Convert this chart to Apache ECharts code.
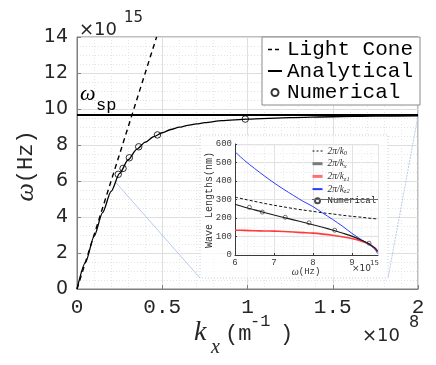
<!DOCTYPE html>
<html><head><meta charset="utf-8">
<script src="https://cdn.jsdelivr.net/npm/echarts@6/dist/echarts.min.js"></script>
<style>html,body{margin:0;padding:0;background:#fff}#c{width:436px;height:365px}</style>
</head><body><div id="c"></div>
<script>
// ---- main plot data (k in 1e8 m^-1, omega in 1e15 Hz)
const xTickLabels = ['0', '0.5', '1', '1.5', '2'];
const yTickLabels = ['0', '2', '4', '6', '8', '10', '12', '14'];
const lightConeK = [0, 0.4667];
const lightConeW = [0, 14];
const analyticK = [0, 0.05, 0.1, 0.15, 0.2, 0.25, 0.3, 0.35, 0.4, 0.45, 0.5, 0.55, 0.6, 0.65, 0.7, 0.75, 0.85, 1.0, 1.25, 1.5, 1.75, 2.0];
const analyticW = [0, 1.48, 2.92, 4.24, 5.42, 6.42, 7.18, 7.76, 8.16, 8.46, 8.68, 8.86, 8.99, 9.09, 9.17, 9.24, 9.35, 9.44, 9.52, 9.57, 9.6, 9.62];
const numericK = [0.242, 0.27, 0.307, 0.362, 0.472, 0.987];
const numericW = [6.37, 6.7, 7.29, 7.9, 8.56, 9.44];
const omegaSpK = [0, 2];
const omegaSpW = [9.67, 9.67];

// ---- inset data (omega in 1e15 Hz, wavelengths in nm)
const insetXTicks = ['6', '7', '8', '9'];
const insetW = [6, 6.25, 6.5, 6.75, 7, 7.25, 7.5, 7.75, 8, 8.25, 8.5, 8.75, 9, 9.25, 9.4, 9.5, 9.6, 9.66];
const lambda0 = [313, 301, 290, 279, 269, 260, 251, 243, 236, 228, 222, 215, 209, 204, 200, 198, 196, 195];
const lambdaX = [274, 258, 244, 230, 216, 203, 190, 177, 164, 150, 135, 119, 102, 80, 65, 52, 36, 20];
const lambdaZ1 = [134, 133, 131, 130, 129, 127, 124, 121, 118, 113, 107, 99, 89, 75, 63, 52, 36, 18];
const lambdaZ2 = [558, 510, 468, 428, 390, 355, 322, 290, 262, 227, 193, 157, 117, 82, 62, 47, 28, 8];
const insetNumW = [6.37, 6.7, 7.29, 7.9, 8.56, 9.44];
const insetNumL = [258, 232, 204, 174, 134, 64];

const zip = (a, b) => a.map((v, i) => [v, b[i]]);

const chart = echarts.init(document.getElementById('c'), null, {renderer: 'canvas'});
const MONO = '"Liberation Mono", monospace';
const SANS = '"DejaVu Sans", sans-serif';
const SERIF = '"Liberation Serif", serif';
const axisGray = '#7f7f7f';
const noSym = {opacity: 0};

const insetNames = {
  k0: '{i|2π/k}{s|0}',
  kx: '{i|2π/k}{s|x}',
  kz1: '{i|2π/k}{s|z1}',
  kz2: '{i|2π/k}{s|z2}',
  'Numerical ': '{n|Numerical}'
};

const option = {
  animation: false,
  backgroundColor: '#fff',
  grid: [
    {left: 77, top: 37, width: 341, height: 252, show: true, borderColor: axisGray, borderWidth: 1, backgroundColor: 'transparent'},
    {left: 235, top: 144, width: 143, height: 111, show: false}
  ],
  xAxis: [
    {
      type: 'value', gridIndex: 0, min: 0, max: 2, interval: 0.5,
      axisLine: {show: true, lineStyle: {color: axisGray}},
      axisTick: {show: true, inside: true, length: 4, lineStyle: {color: axisGray}},
      axisLabel: {fontFamily: MONO, fontSize: 21, color: '#262626', margin: 8,
        formatter: v => xTickLabels[Math.round(v / 0.5)] || ''},
      splitLine: {show: true, lineStyle: {color: '#dedede'}},
      minorTick: {show: false, splitNumber: 5},
      minorSplitLine: {show: true, lineStyle: {color: '#e4e4e4', type: [1, 2]}}
    },
    {
      type: 'value', gridIndex: 1, min: 6, max: 9.67, interval: 1, z: 3,
      axisLine: {show: true, onZero: false, lineStyle: {color: '#3a3a3a'}},
      axisTick: {show: true, inside: true, length: 2, lineStyle: {color: '#3a3a3a'}},
      axisLabel: {fontFamily: MONO, fontSize: 9, color: '#3a3a3a', margin: 3,
        showMaxLabel: false,
        formatter: v => (Math.abs(v - Math.round(v)) < 1e-6 ? insetXTicks[Math.round(v) - 6] || '' : '')},
      splitLine: {show: true, lineStyle: {color: '#e2e2e2'}},
      minorTick: {show: false, splitNumber: 4},
      minorSplitLine: {show: true, lineStyle: {color: '#ececec', type: [1, 2]}}
    }
  ],
  yAxis: [
    {
      type: 'value', gridIndex: 0, min: 0, max: 14, interval: 2,
      axisLine: {show: true, lineStyle: {color: axisGray}},
      axisTick: {show: true, inside: true, length: 4, lineStyle: {color: axisGray}},
      axisLabel: {fontFamily: SANS, fontSize: 19, color: '#262626', margin: 9,
        formatter: v => yTickLabels[Math.round(v / 2)] || ''},
      splitLine: {show: true, lineStyle: {color: '#dedede'}},
      minorTick: {show: false, splitNumber: 4},
      minorSplitLine: {show: true, lineStyle: {color: '#e4e4e4', type: [1, 2]}}
    },
    {
      type: 'value', gridIndex: 1, min: 0, max: 600, interval: 100, z: 3,
      axisLine: {show: true, onZero: false, lineStyle: {color: '#3a3a3a'}},
      axisTick: {show: true, inside: true, length: 2, lineStyle: {color: '#3a3a3a'}},
      axisLabel: {fontFamily: MONO, fontSize: 9, color: '#3a3a3a', margin: 3},
      splitLine: {show: true, lineStyle: {color: '#e2e2e2'}},
      minorTick: {show: false, splitNumber: 2},
      minorSplitLine: {show: true, lineStyle: {color: '#ececec', type: [1, 2]}}
    }
  ],
  legend: [
    {
      left: 262, top: 37, orient: 'vertical',
      backgroundColor: '#fff', borderColor: '#8a8a8a', borderWidth: 1, borderRadius: 0,
      padding: [2, 7, 2, 5], itemGap: 0.5, itemWidth: 14, itemHeight: 7, itemTextGap: 3,
      textStyle: {fontFamily: MONO, fontSize: 21, color: '#000', lineHeight: 21},
      data: [
        {name: 'Light Cone', itemStyle: noSym, lineStyle: {type: [4, 3], width: 1.4}},
        {name: 'Analytical', itemStyle: noSym},
        {name: 'Numerical'}
      ],
      z: 10
    },
    {
      left: 311, top: 145, orient: 'vertical',
      padding: 0, itemGap: 0.7, itemWidth: 10, itemHeight: 5, itemTextGap: 2,
      textStyle: {fontSize: 9, color: '#333', lineHeight: 10,
        rich: {
          i: {fontFamily: SERIF, fontStyle: 'italic', fontSize: 9.5, color: '#333', lineHeight: 10},
          s: {fontFamily: SERIF, fontStyle: 'italic', fontSize: 6.5, color: '#333', lineHeight: 10, padding: [5, 0, 0, 0]},
          n: {fontFamily: MONO, fontSize: 9, color: '#222', lineHeight: 10}
        }
      },
      formatter: name => insetNames[name] || name,
      data: [
        {name: 'k0', itemStyle: noSym, lineStyle: {width: 1, type: [2, 2]}},
        {name: 'kx', itemStyle: noSym, lineStyle: {color: '#7a7a7a', width: 3}},
        {name: 'kz1', itemStyle: noSym, lineStyle: {color: '#ff7070', width: 3}},
        {name: 'kz2', itemStyle: noSym},
        {name: 'Numerical '}
      ],
      z: 10
    }
  ],
  series: [
    {
      name: 'omega_sp', type: 'line', xAxisIndex: 0, yAxisIndex: 0, symbol: 'none',
      data: zip(omegaSpK, omegaSpW), lineStyle: {color: '#000', width: 2}, z: 2
    },
    {
      name: 'Light Cone', type: 'line', xAxisIndex: 0, yAxisIndex: 0, symbol: 'none',
      data: zip(lightConeK, lightConeW), lineStyle: {color: '#000', width: 1.4, type: [5, 4]},
      itemStyle: {color: '#000'}, z: 2
    },
    {
      name: 'Analytical', type: 'line', xAxisIndex: 0, yAxisIndex: 0, symbol: 'none',
      smooth: 0.25, smoothMonotone: 'x',
      data: zip(analyticK, analyticW), lineStyle: {color: '#000', width: 1.3},
      itemStyle: {color: '#000'}, z: 2
    },
    {
      name: 'Numerical', type: 'scatter', xAxisIndex: 0, yAxisIndex: 0,
      symbol: 'circle', symbolSize: 6.5,
      data: zip(numericK, numericW),
      itemStyle: {color: 'rgba(255,255,255,0)', borderColor: '#000', borderWidth: 1}, z: 3
    },
    // inset
    {
      name: 'k0', type: 'line', xAxisIndex: 1, yAxisIndex: 1, symbol: 'none', smooth: 0.3,
      data: zip(insetW, lambda0), lineStyle: {color: '#111', width: 1, type: [3, 2]},
      itemStyle: {color: '#111'}, z: 5
    },
    {
      name: 'kz1', type: 'line', xAxisIndex: 1, yAxisIndex: 1, symbol: 'none', smooth: 0.3,
      data: zip(insetW, lambdaZ1), lineStyle: {color: '#ff3b3b', width: 1.6},
      itemStyle: {color: '#ff7070'}, z: 5
    },
    {
      name: 'kz2', type: 'line', xAxisIndex: 1, yAxisIndex: 1, symbol: 'none', smooth: 0.3,
      data: zip(insetW, lambdaZ2), lineStyle: {color: '#2b3cff', width: 1},
      itemStyle: {color: '#2b3cff'}, z: 5
    },
    {
      name: 'kx', type: 'line', xAxisIndex: 1, yAxisIndex: 1, symbol: 'none', smooth: 0.3,
      data: zip(insetW, lambdaX), lineStyle: {color: '#1a1a1a', width: 1.1},
      itemStyle: {color: '#1a1a1a'}, z: 5
    },
    {
      name: 'Numerical ', type: 'scatter', xAxisIndex: 1, yAxisIndex: 1,
      symbol: 'circle', symbolSize: 4,
      data: zip(insetNumW, insetNumL),
      itemStyle: {color: 'rgba(255,255,255,0)', borderColor: '#222', borderWidth: 0.8}, z: 6
    }
  ]
};
chart.setOption(option);

// anchors of the zoom region in main-plot data coordinates
const zoomCornerA = chart.convertToPixel({gridIndex: 0}, [0.22, 6.0]);
const zoomCornerB = chart.convertToPixel({gridIndex: 0}, [2.0, 9.62]);
const insetBox = {x: 200, y: 135, w: 188, h: 143};

const connColor = '#aec4ea';
chart.setOption({
  graphic: [
    {type: 'rect', z: 1, shape: {x: insetBox.x, y: insetBox.y, width: insetBox.w, height: insetBox.h},
      style: {fill: 'rgba(255,255,255,0.7)', stroke: '#c6cfdd', lineWidth: 1, lineDash: [1, 2]}},
    {type: 'line', z: 1, shape: {x1: zoomCornerA[0], y1: zoomCornerA[1], x2: insetBox.x, y2: insetBox.y + insetBox.h},
      style: {stroke: connColor, lineWidth: 0.9}},
    {type: 'line', z: 1, shape: {x1: zoomCornerB[0], y1: zoomCornerB[1], x2: insetBox.x + insetBox.w, y2: insetBox.y + insetBox.h},
      style: {stroke: connColor, lineWidth: 0.9, lineDash: [2, 1]}},
    // inset legend underline
    {type: 'line', z: 10, shape: {x1: 312, y1: 199.5, x2: 378, y2: 199.5}, style: {stroke: '#666', lineWidth: 1}},
    // main exponent labels
    {type: 'text', z: 10, style: {x: 79, y: 30, text: '×10', font: '18px "DejaVu Sans"', fill: '#262626', textVerticalAlign: 'middle'}},
    {type: 'text', z: 10, style: {x: 124, y: 18, text: '15', font: '15px "DejaVu Sans"', fill: '#262626', textVerticalAlign: 'middle'}},
    {type: 'text', z: 10, style: {x: 362, y: 336, text: '×10', font: '18px "DejaVu Sans"', fill: '#262626', textVerticalAlign: 'middle'}},
    {type: 'text', z: 10, style: {x: 409, y: 323, text: '8', font: '16px "DejaVu Sans"', fill: '#262626', textVerticalAlign: 'middle'}},
    // omega_sp label
    {type: 'text', z: 10, style: {x: 80, y: 94, text: 'ω', font: 'italic 22px "Liberation Serif"', fill: '#000', textVerticalAlign: 'middle'}},
    {type: 'text', z: 10, style: {x: 96, y: 105, text: 'sp', font: '17px "Liberation Mono"', fill: '#000', textVerticalAlign: 'middle'}},
    // x axis name
    {type: 'text', z: 10, style: {x: 194, y: 333, text: 'k', font: 'italic 28px "Liberation Serif"', fill: '#262626', textVerticalAlign: 'middle'}},
    {type: 'text', z: 10, style: {x: 211, y: 348, text: 'x', font: 'italic 20px "Liberation Serif"', fill: '#262626', textVerticalAlign: 'middle'}},
    {type: 'text', z: 10, style: {x: 225, y: 334, text: '(m', font: '22px "Liberation Mono"', fill: '#262626', textVerticalAlign: 'middle'}},
    {type: 'text', z: 10, style: {x: 250, y: 321, text: '-1', font: '17px "Liberation Mono"', fill: '#262626', textVerticalAlign: 'middle'}},
    {type: 'text', z: 10, style: {x: 280, y: 334, text: ')', font: '22px "Liberation Mono"', fill: '#262626', textVerticalAlign: 'middle'}},
    // y axis name
    {type: 'text', z: 10, x: 26, y: 166, rotation: Math.PI / 2,
      style: {text: '{w|ω}{m|(Hz)}', textAlign: 'center', textVerticalAlign: 'middle',
        rich: {w: {font: 'italic 26px "Liberation Serif"', fill: '#262626'}, m: {font: '22px "Liberation Mono"', fill: '#262626'}}}},
    // inset labels
    {type: 'text', z: 10, style: {x: 306, y: 272, text: '{w|ω}{m|(Hz)}', textAlign: 'center', textVerticalAlign: 'middle',
      rich: {w: {font: 'italic 10px "Liberation Serif"', fill: '#333'}, m: {font: '9px "Liberation Mono"', fill: '#333'}}}},
    {type: 'text', z: 10, style: {x: 352, y: 269, text: '×10', font: '9px "DejaVu Sans"', fill: '#333', textVerticalAlign: 'middle'}},
    {type: 'text', z: 10, style: {x: 370, y: 263, text: '15', font: '7px "DejaVu Sans"', fill: '#333', textVerticalAlign: 'middle'}},
    {type: 'text', z: 10, x: 209, y: 200, rotation: Math.PI / 2,
      style: {text: 'Wave Lengths(nm)', font: '10px "Liberation Mono"', fill: '#333', textAlign: 'center', textVerticalAlign: 'middle'}}
  ]
});
</script>
</body></html>
